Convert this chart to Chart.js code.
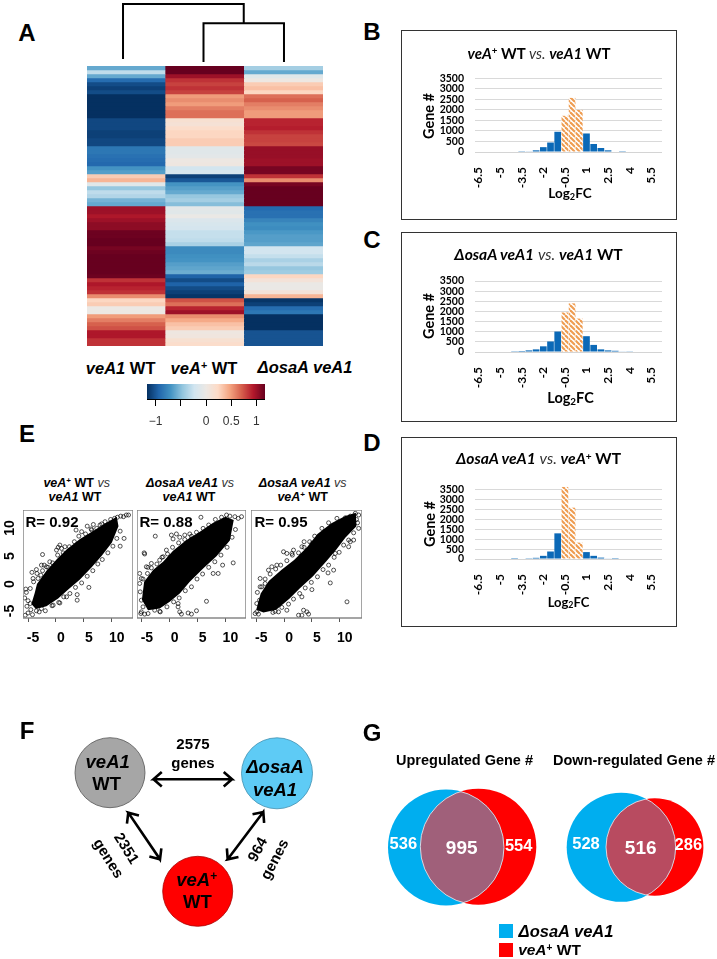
<!DOCTYPE html>
<html>
<head>
<meta charset="utf-8">
<title>veA1 / osaA transcriptome</title>
<script src="https://cdn.jsdelivr.net/npm/chart.js@4"></script>
<style>
  html, body { margin: 0; background: #fff; }
  #page { position: relative; width: 717px; height: 959px; overflow: hidden; }
  canvas { position: absolute; }
  .t { position: absolute; white-space: nowrap; line-height: 1; color: #000; }
  .t sup { font-size: 65%; line-height: 0; vertical-align: 0.45em; }
  .t sub { font-size: 68%; line-height: 0; vertical-align: -0.2em; }
  .t i.vs { font-weight: 400; color: #333; }
  .box { position: absolute; border: 1.3px solid #333; box-sizing: border-box; }
  .sq { position: absolute; width: 14px; height: 14px; }
</style>
</head>
<body>
<div id="page"></div>
<script>
// heatmap rows, top to bottom (z-score per column)
const heatColumns = ['veA1 WT', 'veA+ WT', 'osaA veA1'];
const heatVeA1 = [-0.6,-0.3,-0.6,-0.9,-1.05,-1.1,-1.05,
  -1.17,-1.17,-1.17,-1.17,-1.17,-1.17,
  -1.07,-1.07,-1.07,-1.1,-1.1,-1.07,-1.07,
  -0.85,-0.85,-0.88,-0.9,-0.92,-0.7,-0.65,
  0.3,0.4,-0.1,-0.45,-0.3,-0.35,-0.55,-0.6,
  1.0,1.0,0.95,1.0,1.05,1.05,
  1.15,1.15,1.17,1.17,1.12,1.15,1.17,1.17,1.17,1.17,1.17,1.15,
  0.85,0.95,0.9,0.85,0.55,0.25,0.3,0,0,
  0.5,0.6,0.7,0.75,0.95,0.95,0.85,0.85];
const heatVeAPlus = [1.17,1.17,1.0,0.85,0.8,0.85,0.8,
  0.5,0.55,0.5,0.6,0.65,0.65,
  0.15,0.12,0.2,0.25,0.25,0.3,0.3,
  -0.1,-0.1,-0.08,0.02,0.03,-0.22,-0.18,
  -1.1,-1.0,-0.7,-0.65,-0.6,-0.45,-0.4,-0.5,
  -0.08,-0.1,-0.02,-0.15,-0.18,-0.2,
  -0.28,-0.28,-0.3,-0.38,
  -0.75,-0.75,-0.72,-0.7,-0.65,-0.62,-0.58,
  -0.95,-1.05,-0.95,-1.05,-1.1,-1.15,
  0.75,0.65,0.9,1.0,
  0.55,0.45,0.35,0.3,0.03,0.05,0.15,0.2];
const heatOsaA = [-0.4,-0.6,-0.1,0.02,0.3,0.35,0.25,
  0.65,0.7,0.6,0.55,0.5,0.5,
  0.9,0.9,0.92,0.85,0.8,0.8,0.78,
  1.02,1.02,1.02,1.0,1.0,1.12,1.12,
  0.85,0.55,1.12,1.17,1.17,1.17,1.17,1.17,
  -0.92,-0.88,-0.88,-0.78,-0.72,-0.74,-0.68,-0.65,-0.65,-0.62,
  -0.22,-0.22,-0.28,-0.38,-0.32,-0.45,-0.42,
  0.25,0.1,-0.02,-0.02,0.1,0.4,
  -1.15,-1.1,-0.9,-0.85,
  -1.17,-1.17,-1.17,-1.17,-1.02,-1.02,-1.02,-1.02];
const colorbarTicks = [-1, -0.5, 0, 0.5, 1];
const rdbu = ['#053061','#2166ac','#4393c3','#92c5de','#d1e5f0','#ece8e4','#fddbc7','#f4a582','#d6604d','#b2182b','#67001f'];

// dendrogram merge heights
const dendroLeft = [[0,0.05],[0,1],[1.5,1],[1.5,0.67]];
const dendroRight = [[1,0],[1,0.67],[2,0.67],[2,0]];

// Log2FC histograms
const fcBins = ['-6.5','-6','-5.5','-5','-4.5','-4','-3.5','-3','-2.5','-2','-1.5','-1','-0.5','0','0.5','1','1.5','2','2.5','3','3.5','4','4.5','5','5.5','6'];
const histB = [0,0,0,0,0,0,10,30,80,230,450,960,1720,2570,2000,880,380,190,80,25,8,0,0,0,0,0];
const histC = [0,0,0,0,0,10,50,80,130,280,520,1010,1950,2400,1650,780,350,130,80,60,30,15,0,0,0,0];
const histD = [0,0,0,0,0,5,25,40,60,160,380,1300,3650,2600,830,350,160,70,30,5,0,0,0,0,0,0];
const histTicks = [0,500,1000,1500,2000,2500,3000,3500];

// scatter: outline of the solid black core
const coreA = [[-4.4,-3.6],[-3.8,-1.6],[-3.4,0],[-1.7,2.4],[0.1,4.4],[1.9,6.2],[4.3,8.1],[6.8,9.6],[9,11],[10.9,12.1],[11.2,10.4],[10,7.4],[8.2,5.1],[6.4,3],[4.3,0.8],[2.2,-1],[0.4,-2.6],[-1.7,-4],[-3.6,-4.5]];
const coreB = [[-5,-2.8],[-4.6,0.4],[-3,2.5],[-1.2,4],[0.6,6],[3,7.9],[5.4,9.4],[7.8,11],[10,12.1],[11.5,11.5],[10.8,7.8],[8.4,5],[6,2.8],[3.6,0.4],[1.8,-1.7],[0,-3.2],[-1.8,-4.4],[-3.9,-4.7]];
const coreC = [[-5,-4.6],[-4.2,-1.7],[-2.7,0.6],[-0.5,2.5],[1.8,4.3],[4.2,6.7],[6,9],[8.5,10.9],[11,12.2],[12.9,12.8],[13,10.4],[11,8.3],[9.4,6.2],[7.6,4.1],[5.2,1.4],[2.8,-0.8],[1,-2.6],[-1.4,-4.6],[-3.7,-5.1]];
// scatter: individual circles around the core
const scatterA = [[-2.4,5.3],[-2.6,3.4],[-2.1,3.4],[-3.5,2.6],[-4.3,2.1],[-3.4,1.9],[-4.1,1],[-2.7,1.6],[-1.7,3.1],[-1.1,4],[0.4,6.6],[0.7,7],[1,6.4],[0.1,6.1],[1.6,6.7],[2.2,5.5],[3.6,9.7],[4.6,9.4],[5.6,10.4],[6.7,10.7],[6.4,9.7],[7.9,10.6],[5.9,-0.6],[3.8,-1.9],[3.8,-2.9],[1.9,-2.3],[-0.5,-3.8],[0.7,-3.4],[11.5,6.8],[12.2,8.2],[13,12.4],[12.6,12.4],[12.1,12.1],[11.6,12.2],[11,12],[10.5,11.8],[9.8,11.6],[8.8,11.2],[-5.3,-1.5],[-5.6,-2.5],[-5,-3],[-4.6,-3.5],[-5.2,-4],[-5.5,-5.6],[-5,-5.2],[-4.5,-4.6],[-3.5,-4.8],[-3,-5],[-2.6,-4.4],[-4.2,-5.5],[-5.4,-0.9],
  [-4.6,-0.8],[-4,0.4],[-3.2,1],[-2.4,2.4],[-1.4,3],[-0.6,3.8],[0.3,5.2],[1.3,5.6],[2.4,6.7],[3.3,7.6],[4.1,8.6],[5.3,9],[6.3,9.9],[7.3,10],[8.2,10.8],
  [11.5,9.5],[10.9,8.2],[10.2,6.8],[9.3,5.6],[8.3,4.4],[7.5,3.6],[6.6,2.4],[5.6,1.4],[4.6,0.2],[3.5,-0.6],[2.5,-1.7],[1.4,-2.3],[0.5,-3.3],[-0.7,-3.9],[-1.9,-4.8]];
const scatterB = [[-2.6,8.6],[-4.6,5.6],[-4.5,5.4],[-4.2,3.1],[-3.9,3],[-3.3,3.7],[-5.4,1.9],[-5.1,1],[-5.4,0.1],[-5.3,-1.4],[-5.1,-2.9],[-4.8,-4.1],[-5.1,-5],[-5.2,-5.3],[-4.5,-5.4],[-3.9,-5.3],[-2.7,-4.7],[-1.8,-4.9],[1.5,-3.5],[1.5,-4.1],[1.8,-5],[2.1,-5.4],[3.3,-5.2],[3.9,-5.4],[4.8,-4.8],[6.6,-3.1],[7.8,1.9],[8.7,1.9],[9.5,3.4],[11.4,3.8],[5.6,12],[0.3,8.8],[1.2,9],[0.6,8.1],[1.8,8.4],[2.7,8.8],[3.6,9],[3.9,8.1],[-0.6,6.1],[-1.2,4.9],[-1.8,4.3],[12.9,12.1],[12.3,11.8],[11.7,12.1],[10.8,12.2],[10.2,12.4],[9.3,12],
  [-4.8,0.9],[-4,1.9],[-3.3,2.9],[-2.3,3.6],[-1.4,4.8],[-0.4,5.4],[0.5,6.6],[1.6,7.4],[2.7,8],[3.9,8.6],[4.8,9.3],[6,10],[7,10.6],[8.2,11.6],
  [11.8,9.8],[11.2,8.4],[10.3,6.6],[9.2,5.2],[8.1,4],[7,3],[5.9,1.8],[4.9,0.9],[3.9,-0.5],[2.8,-1.2],[1.7,-2.5],[0.7,-3.2],[-0.5,-4.1],[-1.7,-5]];
const scatterC = [[-4.3,1],[-4,-0.5],[-3.4,0.1],[-2.5,0.1],[-2.8,2.5],[-2.2,3.1],[-1.3,3.4],[-0.1,5.8],[0.5,5.5],[1.4,5.5],[1.7,6.1],[3.2,6.7],[3.6,7.6],[5,7.3],[11.3,-3.2],[8.3,0.2],[7.9,2],[8.9,2.5],[5,-1],[3.2,-2.3],[3.5,-4.7],[4.1,-5],[4.4,-5.4],[3.2,-5.6],[2.6,-5.6],[0.5,-4.7],[-1.6,-4.9],[-1,-5],[-4.9,-5],[-5.2,-5.3],[-4.6,-5.4],[-4.9,-3.5],[-4.4,-2.9],[13.4,12.4],[12.8,12.7],[11.9,12.2],[11,11.9],[12.5,7.9],[11.9,7.6],[11.6,6.7],[9.2,5.5],[13,11.6],[13.2,11],
  [-4.8,-1.5],[-4.3,-0.5],[-3.4,0.9],[-2.5,1.8],[-1.5,2.7],[-0.6,3.4],[0.5,4.2],[1.5,5.2],[2.6,5.6],[3.6,6.6],[4.6,7.6],[5.5,8.6],[6.8,10],[8,11],[9.5,11.8],
  [13.4,10],[12.5,9.2],[11.6,7.9],[10.7,7],[9.9,5.7],[9,4.8],[8,3.4],[7,2.6],[6,1.3],[4.9,0.3],[3.8,-0.7],[2.8,-1.7],[1.7,-2.7],[0.8,-3.6],[-0.4,-4.2],[-2,-5.1]];
const scatterTicks = [-5, 0, 5, 10];

// venn counts and diagram labels
const vennUp = [536, 995, 554];
const vennDown = [528, 516, 286];
const edgeGenes = [2575, 2351, 964];

const ARIAL = '"Liberation Sans", Arial, sans-serif';
const LATO = 'Lato, sans-serif';
const page = document.getElementById('page');
Chart.defaults.animation = false;
Chart.defaults.responsive = false;
Chart.defaults.plugins.legend.display = false;
Chart.defaults.plugins.tooltip.enabled = false;
Chart.defaults.layout.autoPadding = false;

function addCanvas(x, y, w, h) {
  const c = document.createElement('canvas');
  c.width = w; c.height = h;
  c.style.left = x + 'px'; c.style.top = y + 'px';
  page.appendChild(c);
  return c.getContext('2d');
}

function addText(html, x, y, size, font, rot) {
  const d = document.createElement('div');
  d.className = 't';
  d.innerHTML = html;
  d.style.left = x + 'px'; d.style.top = y + 'px';
  d.style.fontSize = size + 'px';
  d.style.fontFamily = font || ARIAL;
  d.style.fontWeight = 'bold';
  d.style.transform = 'translate(-50%,-50%)' + (rot ? ' rotate(' + rot + 'deg)' : '');
  page.appendChild(d);
  return d;
}

// fixed axis size, no extra room for overhanging tick labels
function fixSize(key, val) {
  return s => {
    s[key] = val;
    s.paddingTop = s.paddingBottom = s.paddingLeft = s.paddingRight = 0;
  };
}

// RdBu lookup, range -1.17..1.17
function heatColor(v) {
  const t = Math.max(0, Math.min(1, (v + 1.17) / 2.34)) * (rdbu.length - 1);
  const i = Math.min(Math.floor(t), rdbu.length - 2), f = t - i;
  const a = rdbu[i], b = rdbu[i + 1];
  const ch = k => Math.round(parseInt(a.substr(k, 2), 16) * (1 - f) + parseInt(b.substr(k, 2), 16) * f);
  return 'rgb(' + ch(1) + ',' + ch(3) + ',' + ch(5) + ')';
}

// Heatmap
new Chart(addCanvas(87, 66, 236, 280), {
  type: 'bar',
  data: {
    labels: heatColumns,
    datasets: heatVeA1.map((v, i) => ({
      data: [1, 1, 1],
      backgroundColor: [heatColor(v), heatColor(heatVeAPlus[i]), heatColor(heatOsaA[i])],
      barPercentage: 1, categoryPercentage: 1, borderWidth: 0
    }))
  },
  options: {
    scales: {
      x: { stacked: true, display: false },
      y: { stacked: true, display: false, reverse: true, min: 0, max: heatVeA1.length }
    }
  }
});

// Dendrogram
new Chart(addCanvas(100, 1, 200, 65), {
  type: 'scatter',
  data: {
    datasets: [dendroLeft, dendroRight].map(path => ({
      data: path.map(p => ({ x: p[0], y: p[1] })),
      showLine: true, borderColor: '#000', borderWidth: 2, pointRadius: 0,
      borderJoinStyle: 'miter', clip: false
    }))
  },
  options: { scales: {
    x: { display: false, min: -0.286, max: 2.199 },
    y: { display: false, min: -0.069, max: 1.052 }
  } }
});

// Colour bar
new Chart(addCanvas(147, 384, 118, 46), {
  type: 'bar',
  data: {
    labels: ['z'],
    datasets: [{
      data: [[-1.17, 1.17]],
      barPercentage: 1, categoryPercentage: 1, borderWidth: 0,
      backgroundColor: c => {
        const a = c.chart.chartArea;
        if (!a) return '#fff';
        const g = c.chart.ctx.createLinearGradient(a.left, 0, a.right, 0);
        rdbu.forEach((col, i) => g.addColorStop(i / (rdbu.length - 1), col));
        return g;
      }
    }]
  },
  options: {
    indexAxis: 'y',
    scales: {
      y: { display: false },
      x: {
        min: -1.17, max: 1.17,
        afterFit: fixSize('height', 31),
        afterBuildTicks: s => { s.ticks = colorbarTicks.map(v => ({ value: v })); },
        border: { color: '#000', width: 1 },
        grid: { drawOnChartArea: false, color: '#000', tickLength: 7 },
        ticks: {
          autoSkip: false, maxRotation: 0, padding: 8, color: '#333',
          font: { family: ARIAL, size: 12 },
          callback: v => v === -0.5 ? '' : (v < 0 ? '\u2212' + Math.abs(v) : v)
        }
      }
    }
  }
});

// Histograms
function stripes() {
  const c = document.createElement('canvas');
  c.width = 5; c.height = 5;
  const g = c.getContext('2d');
  g.fillStyle = '#fff'; g.fillRect(0, 0, 5, 5);
  g.strokeStyle = '#ee9d52'; g.lineWidth = 2.1;
  [-5, 0, 5].forEach(k => { g.beginPath(); g.moveTo(k, 0); g.lineTo(k + 5, 5); g.stroke(); });
  return g.createPattern(c, 'repeat');
}
const hatch = stripes();

function drawHist(values, top3500, zeroY) {
  const top = Math.round(zeroY - (zeroY - top3500) * 3800 / 3500);
  new Chart(addCanvas(425, top, 237, zeroY - top + 60), {
    type: 'bar',
    data: {
      labels: fcBins,
      datasets: [{
        data: values,
        backgroundColor: fcBins.map(b => (+b >= -0.5 && +b <= 0.5) ? hatch : '#0b69b7'),
        barPercentage: 0.93, categoryPercentage: 1, borderWidth: 0
      }]
    },
    options: {
      scales: {
        x: {
          afterFit: fixSize('height', 60),
          grid: { display: false },
          border: { color: '#d4d4d4' },
          ticks: {
            autoSkip: false, minRotation: 90, maxRotation: 90, padding: 7, color: '#000',
            font: { family: LATO, size: 12, weight: 'bold' },
            callback: (v, i) => i % 3 === 0 ? fcBins[i] : ''
          }
        },
        y: {
          min: 0, max: 3800,
          afterFit: fixSize('width', 50),
          afterBuildTicks: s => { s.ticks = histTicks.map(v => ({ value: v })); },
          grid: { color: '#d9d9d9', drawTicks: false },
          border: { display: false },
          ticks: {
            autoSkip: false, padding: 11, color: '#000',
            font: { family: LATO, size: 10.5, weight: 'bold' },
            callback: v => String(v)
          }
        }
      }
    }
  });
}
drawHist(histB, 78.5, 152);
drawHist(histC, 281, 352);
drawHist(histD, 490, 559);

// Scatter panels
const scatterBox = {
  id: 'scatterBox',
  beforeDatasetsDraw(chart, args, o) {
    const c = chart.ctx, xs = chart.scales.x, ys = chart.scales.y;
    c.save();
    c.fillStyle = '#000';
    c.beginPath();
    o.core.forEach((p, i) => {
      const px = xs.getPixelForValue(p[0]), py = ys.getPixelForValue(p[1]);
      if (i) c.lineTo(px, py); else c.moveTo(px, py);
    });
    c.closePath();
    c.fill();
    c.restore();
  },
  afterDatasetsDraw(chart) {
    const c = chart.ctx, a = chart.chartArea;
    c.save();
    c.strokeStyle = '#7f7f7f'; c.lineWidth = 1.4;
    c.strokeRect(a.left, a.top, a.right - a.left, a.bottom - a.top);
    c.restore();
  }
};

function drawScatter(points, core, left, right, xMin, xMax) {
  const top = 510, bottom = 618, below = 30;
  new Chart(addCanvas(left, top, right - left, bottom - top + below), {
    type: 'scatter',
    data: {
      datasets: [{
        data: points.map(p => ({ x: p[0], y: p[1] })),
        pointRadius: 2, pointBorderWidth: 0.8,
        pointBorderColor: 'rgba(0,0,0,0.85)', pointBackgroundColor: 'transparent'
      }]
    },
    options: {
      plugins: { scatterBox: { core } },
      scales: {
        x: {
          min: xMin, max: xMax,
          afterFit: fixSize('height', below),
          afterBuildTicks: s => { s.ticks = scatterTicks.map(v => ({ value: v })); },
          grid: { drawOnChartArea: false, color: '#555', tickLength: 4 },
          border: { display: false },
          ticks: {
            autoSkip: false, maxRotation: 0, padding: 8, labelOffset: 5, color: '#000',
            font: { family: ARIAL, size: 14, weight: 'bold' },
            callback: v => v
          }
        },
        y: { display: false, min: -6.1, max: 13.3 }
      }
    },
    plugins: [scatterBox]
  });
}
drawScatter(scatterA, coreA, 23, 133, -5.9, 13.8);
drawScatter(scatterB, coreB, 137, 246, -5.88, 13.7);
drawScatter(scatterC, coreC, 251, 362, -5.94, 14);

// F and G diagrams, page pixels as units
const vennLens = {
  id: 'vennLens',
  afterDatasetsDraw(chart, args, o) {
    const c = chart.ctx, xs = chart.scales.x, ys = chart.scales.y;
    const arc = k => c.arc(xs.getPixelForValue(k.x), ys.getPixelForValue(k.y), k.r, 0, Math.PI * 2);
    o.pairs.forEach(p => {
      c.save();
      c.beginPath(); arc(p.a); c.clip();
      c.beginPath(); arc(p.b);
      c.fillStyle = p.color; c.fill();
      c.strokeStyle = 'rgba(255,255,255,0.7)'; c.lineWidth = 1; c.stroke();
      c.restore();
      c.save();
      c.beginPath(); arc(p.b); c.clip();
      c.beginPath(); arc(p.a);
      c.strokeStyle = 'rgba(255,255,255,0.7)'; c.lineWidth = 1; c.stroke();
      c.restore();
    });
  }
};

function arrowPath(x1, y1, x2, y2) {
  const ang = Math.atan2(y2 - y1, x2 - x1), h = 11, w = 0.72;
  const wing = (x, y, a) => ({ x: x + h * Math.cos(a), y: y + h * Math.sin(a) });
  const p1 = { x: x1, y: y1 }, p2 = { x: x2, y: y2 };
  return [wing(x1, y1, ang + w), p1, wing(x1, y1, ang - w), p1, p2,
          wing(x2, y2, ang + Math.PI + w), p2, wing(x2, y2, ang + Math.PI - w)];
}
const arrow = d => ({
  type: 'line', data: d, borderColor: '#000', borderWidth: 2.6, pointRadius: 0,
  fill: false, tension: 0, borderJoinStyle: 'miter'
});
const node = (x, y, r, fill, edge) => ({
  type: 'bubble', data: [{ x, y, r }], backgroundColor: fill,
  borderColor: edge || fill, borderWidth: edge ? 0.8 : 0
});
const upBlue = { x: 446, y: 847.5, r: 58 }, upRed = { x: 478.3, y: 846.7, r: 58 };
const downBlue = { x: 621.2, y: 847.3, r: 54.5 }, downRed = { x: 654.7, y: 847, r: 48.7 };

new Chart(addCanvas(0, 690, 717, 269), {
  type: 'bubble',
  data: {
    datasets: [
      arrow(arrowPath(153.5, 779.3, 232, 779.3)),
      arrow(arrowPath(128.3, 812.7, 160, 859.3)),
      arrow(arrowPath(263.3, 812, 227.7, 859.3)),
      node(110, 772.7, 35, '#a6a6a6', '#555'),
      node(277, 773.3, 35.5, '#5ecbf5', '#3f8fb0'),
      node(197.7, 891.3, 35, '#ff0000', '#a00'),
      node(upBlue.x, upBlue.y, upBlue.r, '#00aeef'),
      node(upRed.x, upRed.y, upRed.r, '#ff0000'),
      node(downBlue.x, downBlue.y, downBlue.r, '#00aeef'),
      node(downRed.x, downRed.y, downRed.r, '#ff0000')
    ]
  },
  options: {
    plugins: { vennLens: { pairs: [
      { a: upBlue, b: upRed, color: '#a0607a' },
      { a: downBlue, b: downRed, color: '#b84b60' }
    ] } },
    scales: {
      x: { type: 'linear', display: false, min: 0, max: 717 },
      y: { type: 'linear', display: false, min: 690, max: 959, reverse: true }
    }
  },
  plugins: [vennLens]
});

// Histogram frames
[[401, 30, 276, 190], [401, 232, 276, 190], [401, 437, 276, 190]].forEach(b => {
  const d = document.createElement('div');
  d.className = 'box';
  d.style.left = b[0] + 'px'; d.style.top = b[1] + 'px';
  d.style.width = b[2] + 'px'; d.style.height = b[3] + 'px';
  page.appendChild(d);
});

// Panel letters
[['A',27,33],['B',372,32],['C',372,240],['D',372,443],['E',27,434],['F',27,731],['G',372,733]]
  .forEach(l => addText(l[0], l[1], l[2], 24));

// Heatmap labels
addText('<i>veA1</i> WT', 120.7, 368, 16.5);
addText('<i>veA</i><sup>+</sup> WT', 204, 367.5, 16.5);
addText('<i>\u0394osaA veA1</i>', 305, 367, 16.5);

// Histogram labels
addText('<i>veA</i><sup>+</sup> WT <i class="vs">vs.</i> <i>veA1</i> WT', 539, 52.5, 15, LATO);
addText('<i>\u0394osaA veA1</i> <i class="vs">vs.</i> <i>veA1</i> WT', 538.5, 254.5, 15.6, LATO);
addText('<i>\u0394osaA veA1</i> <i class="vs">vs.</i> <i>veA</i><sup>+</sup> WT', 538.5, 459, 15.6, LATO);
addText('Gene #', 429, 116, 14.5, LATO, -90);
addText('Gene #', 429, 316, 14.5, LATO, -90);
addText('Gene #', 430, 524, 14.5, LATO, -90);
addText('Log<sub>2</sub>FC', 570, 194, 13.5, LATO);
addText('Log<sub>2</sub>FC', 570.5, 398, 14.5, LATO);
addText('Log<sub>2</sub>FC', 568.5, 601.5, 13, LATO);

// Scatter labels
addText('<i>veA</i><sup>+</sup> WT <i class="vs">vs</i>', 76.7, 482.5, 12.5);
addText('<i>veA1</i> WT', 75, 496.5, 12.5);
addText('<i>\u0394osaA veA1</i> <i class="vs">vs</i>', 190, 482.5, 12.5);
addText('<i>veA1</i> WT', 189, 496.5, 12.5);
addText('<i>\u0394osaA veA1</i> <i class="vs">vs</i>', 302.7, 482.5, 12.5);
addText('<i>veA</i><sup>+</sup> WT', 302.7, 496.5, 12.5);
addText('R= 0.92', 52, 520.5, 15);
addText('R= 0.88', 166, 520.5, 15);
addText('R= 0.95', 281, 520.5, 15);
[['10',528],['5',556],['0',584],['-5',611]].forEach(l => addText(l[0], 8.5, l[1], 14, ARIAL, -90));

// F labels
addText(edgeGenes[0], 193, 743, 15);
addText('genes', 193, 762, 15);
addText(edgeGenes[1], 126.7, 847.5, 15, ARIAL, 58);
addText('genes', 109, 858, 15, ARIAL, 58);
addText(edgeGenes[2], 257, 849, 15, ARIAL, -62);
addText('genes', 274, 859, 15, ARIAL, -62);
addText('<i>veA1</i>', 107.7, 762, 18.5);
addText('WT', 106.7, 784, 18.5);
addText('<i>\u0394osaA</i>', 275, 767, 18.5);
addText('<i>veA1</i>', 275, 790, 18.5);
addText('<i>veA</i><sup>+</sup>', 196.7, 880, 18.5);
addText('WT', 197.3, 902, 18.5);

// G labels
addText('Upregulated Gene #', 464.5, 760, 14.5);
addText('Down-regulated Gene #', 634, 760, 14.5);
[[vennUp[0],403.3,843.3,16.5],[vennUp[1],461.7,847.3,19],[vennUp[2],518.7,845,16.5],
 [vennDown[0],586,842.7,16.5],[vennDown[1],640.7,847.3,19],[vennDown[2],688.3,844,16.5]]
  .forEach(l => { addText(l[0], l[1], l[2], l[3]).style.color = '#fff'; });

// G legend
[[499, 924, '#00aeef'], [499, 943, '#ff0000']].forEach(s => {
  const d = document.createElement('div');
  d.className = 'sq';
  d.style.left = s[0] + 'px'; d.style.top = s[1] + 'px'; d.style.background = s[2];
  page.appendChild(d);
});
addText('<i>\u0394osaA veA1</i>', 566, 931, 16.5);
addText('<i>veA</i><sup>+</sup> WT', 549.5, 950, 15.5);
</script>
</body>
</html>
